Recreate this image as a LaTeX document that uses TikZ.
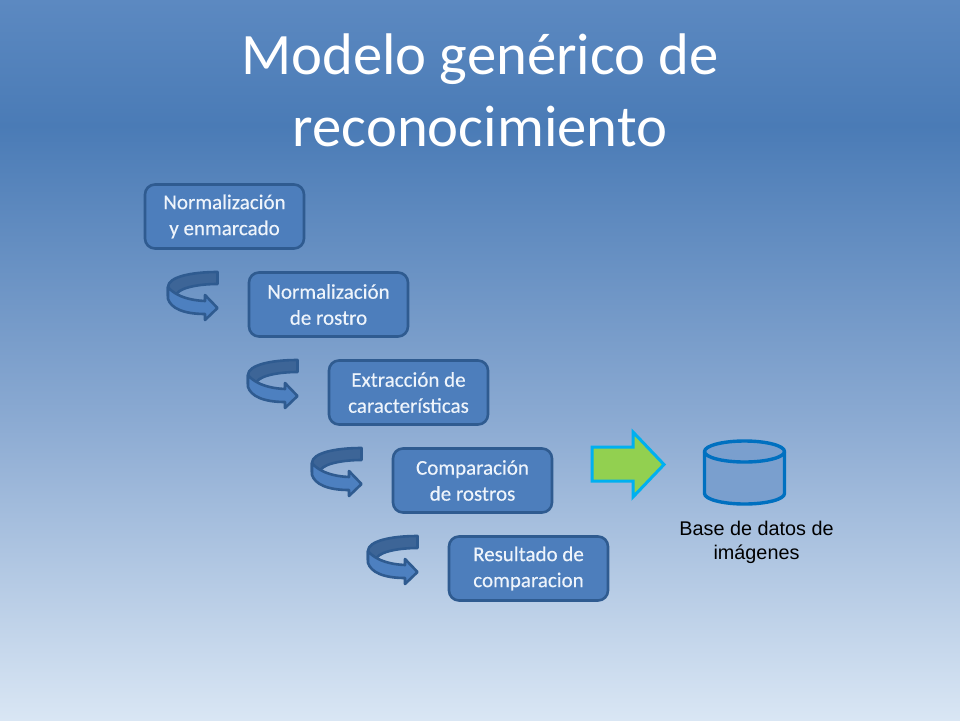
\documentclass[tikz,border=0pt]{standalone}
\usepackage{fontspec}
\setmainfont{Carlito}
\newfontfamily\arialf{Liberation Sans}
\newfontfamily\boxfont[FakeBold=0.35]{Carlito}
\newcommand{\twolines}[2]{\raisebox{-1pt}{#1}\\\raisebox{-1pt}{#2}}
\definecolor{bgA}{HTML}{5C89C1}
\definecolor{bgB}{HTML}{4A7BB6}
\definecolor{bgC}{HTML}{8BAAD2}
\definecolor{bgD}{HTML}{D9E6F4}
\definecolor{boxfill}{HTML}{4D7EBC}
\definecolor{boxline}{HTML}{2F5B90}
\definecolor{boxtext}{HTML}{EEF4FB}
\definecolor{bandfill}{HTML}{3D6597}
\definecolor{frontfill}{HTML}{4D80C0}
\definecolor{greenfill}{HTML}{92D050}
\definecolor{cyanline}{HTML}{00B0F0}
\definecolor{cylline}{HTML}{0070C0}
\definecolor{cylfill}{HTML}{7A9FCE}
\tikzset{
  x=1pt,y=-1pt,
  stagebox/.style={draw=boxline,line width=2.6pt,fill=boxfill,rounded corners=10pt,
    minimum width=159pt,minimum height=64pt,inner sep=0pt,align=center,text=boxtext,
    font=\boxfont\fontsize{21}{26}\selectfont},
  titletext/.style={text=white,align=center,font=\fontsize{58.7}{72}\selectfont},
  captiontext/.style={text=black,align=center,font=\arialf\fontsize{19.8}{24}\selectfont},
  curl/.pic={
    \draw[boxline,line width=2.6pt,fill=bandfill,line join=round]
      (50.5,1) .. controls (24,1) and (1,6) .. (1,16) -- (1,25) -- (9,25)
      .. controls (9,18) and (28,13) .. (50.5,13) -- cycle;
    \draw[boxline,line width=2.6pt,fill=frontfill,line join=round]
      (1,16) .. controls (4,20) and (14,29) .. (38,30) -- (38,24) -- (50.5,37) -- (38,49) -- (38,43)
      .. controls (16,43) and (4,37) .. (1,28) -- cycle;
  }
}
\begin{document}
\begin{tikzpicture}
\useasboundingbox (0,0) rectangle (960,720);
\shade[top color=bgA,bottom color=bgB] (0,0) rectangle (960,126);
\shade[top color=bgB,bottom color=bgC] (0,125.5) rectangle (960,420);
\shade[top color=bgC,bottom color=bgD] (0,419.5) rectangle (960,720);

\node[titletext] (title) at (480,90) {Modelo genérico de\\reconocimiento};

\node[stagebox] (b1) at (224.5,216.5) {\twolines{Normalización}{y enmarcado}};
\node[stagebox] (b2) at (328.5,304.5) {\twolines{Normalización}{de rostro}};
\node[stagebox] (b3) at (408.5,392.5) {\twolines{Extracción de}{características}};
\node[stagebox] (b4) at (472.5,480.5) {\twolines{Comparación}{de rostros}};
\node[stagebox] (b5) at (528.5,568.5) {\twolines{Resultado de}{comparacion}};

\pic at (167,271) {curl};
\pic at (247,359) {curl};
\pic at (311,447) {curl};
\pic at (367,535) {curl};

\draw[cyanline,line width=3pt,fill=greenfill,line join=miter]
  (592,447) -- (633,447) -- (633,432) -- (664,464.5) -- (633,497) -- (633,481) -- (592,481) -- cycle;

\draw[cylline,line width=3.4pt,fill=cylfill,line join=round]
  (704.5,451.5) -- (704.5,493.5)
  .. controls (704.5,499.3) and (722.4,504) .. (744.5,504)
  .. controls (766.6,504) and (784.5,499.3) .. (784.5,493.5)
  -- (784.5,451.5)
  .. controls (784.5,445.7) and (766.6,441) .. (744.5,441)
  .. controls (722.4,441) and (704.5,445.7) .. (704.5,451.5) -- cycle;
\draw[cylline,line width=3.4pt]
  (704.5,451.5) .. controls (704.5,457.3) and (722.4,462) .. (744.5,462)
  .. controls (766.6,462) and (784.5,457.3) .. (784.5,451.5);

\node[captiontext] (cap) at (756.5,542) {Base de datos de\\imágenes};
\end{tikzpicture}
\end{document}
